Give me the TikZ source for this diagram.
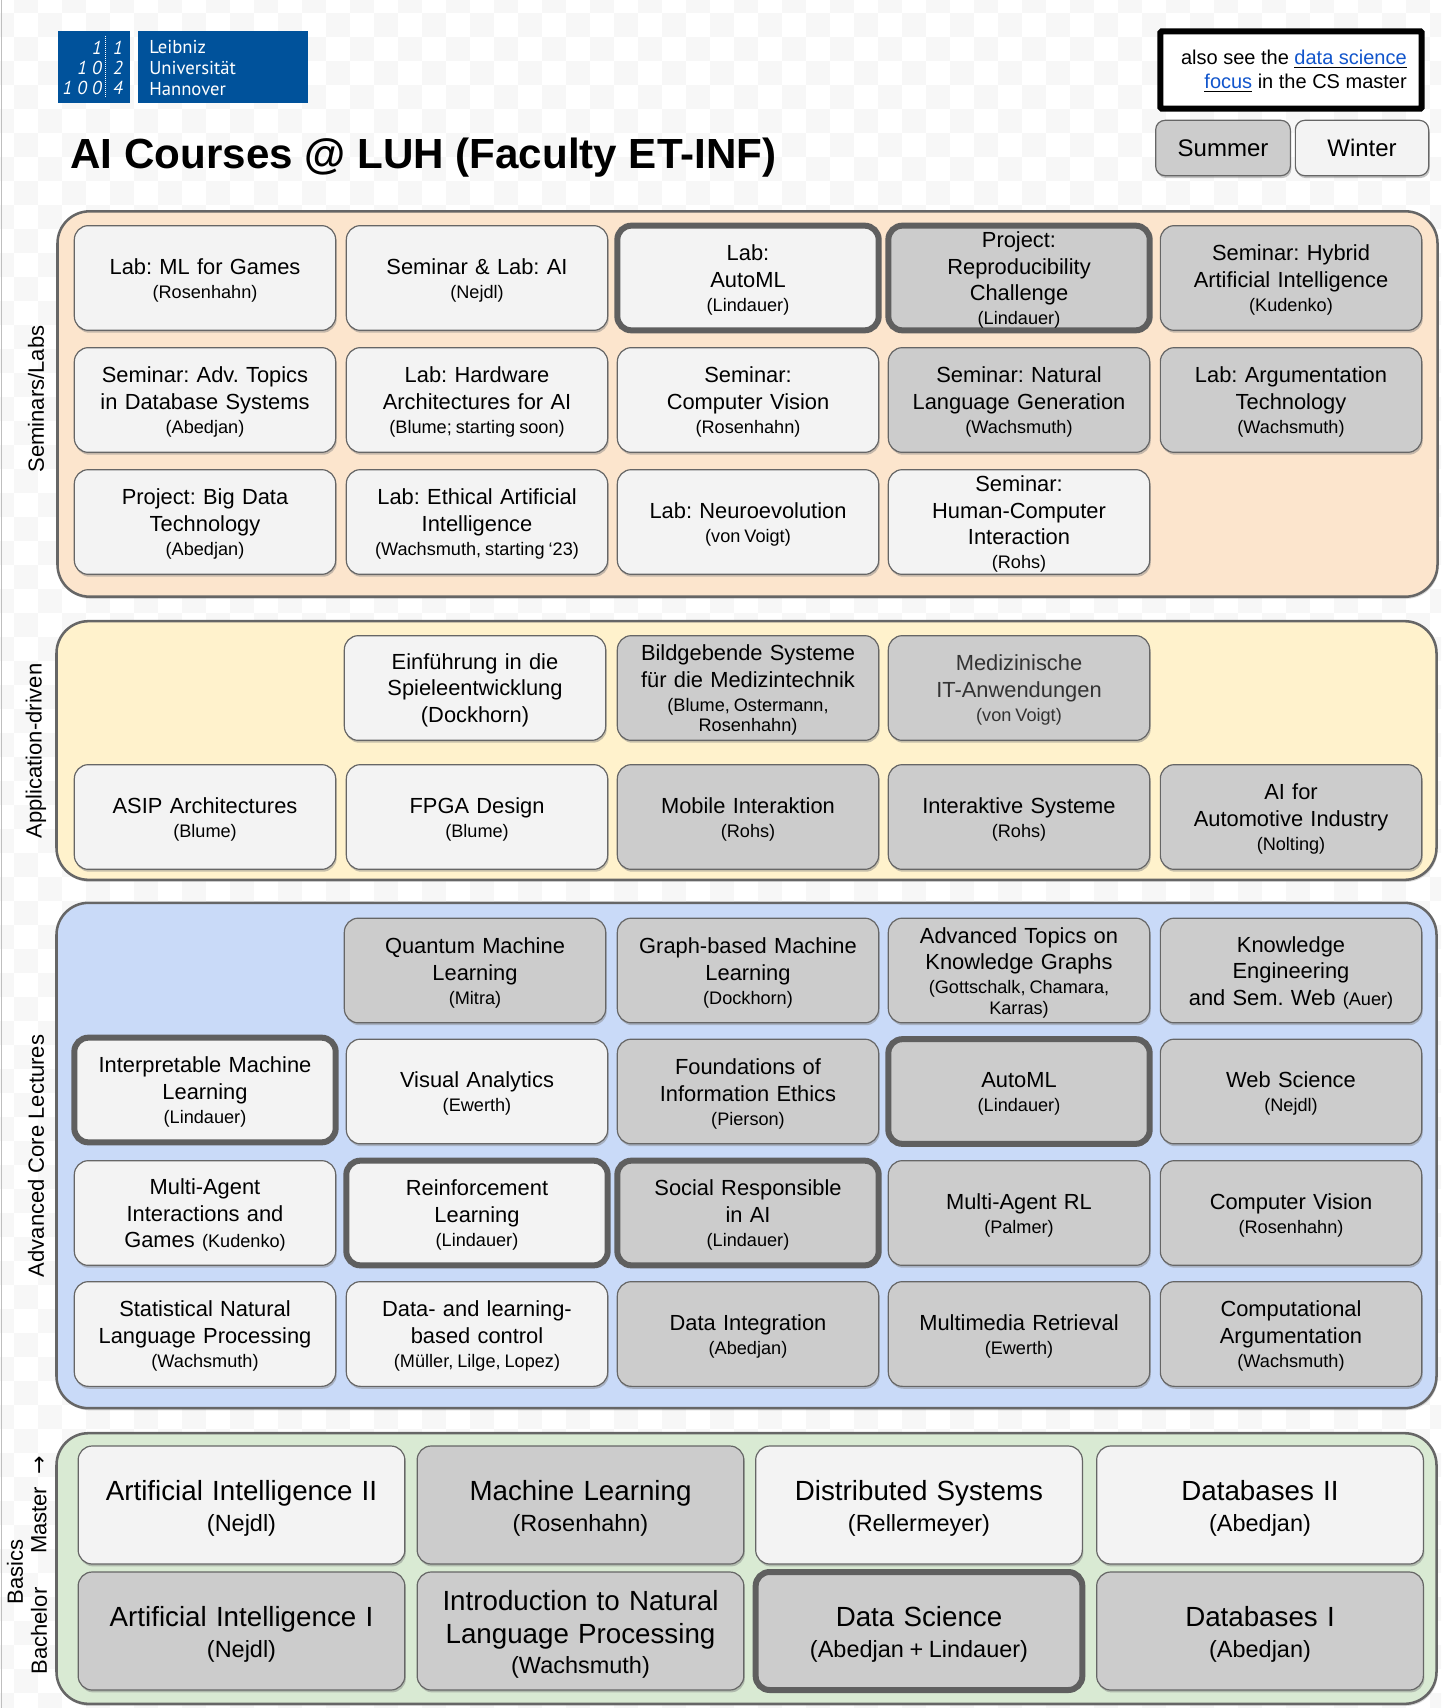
\documentclass[tikz,border=0pt]{standalone}
\usepackage{fontspec}
\setmainfont{Liberation Sans}
\newfontfamily\logofont{PT Sans}
\newfontfamily\arrowfont{DejaVu Sans}
\usetikzlibrary{shadows}
\AtBeginDocument{\frenchspacing}
\definecolor{frame}{HTML}{666666}
\definecolor{focusframe}{HTML}{5F5F5F}
\definecolor{summergrey}{HTML}{CCCCCC}
\definecolor{wintergrey}{HTML}{F3F3F3}
\definecolor{labscol}{HTML}{FCE5CD}
\definecolor{appcol}{HTML}{FFF2CC}
\definecolor{corecol}{HTML}{C9DAF8}
\definecolor{basicscol}{HTML}{D9EAD3}
\definecolor{logoblue}{HTML}{00529B}
\definecolor{linkblue}{HTML}{1155CC}
\definecolor{checker}{HTML}{F7F7F7}
\newcommand{\who}[1]{{\fontsize{13.6pt}{20pt}\selectfont\spaceskip=.22em\relax #1}}
\newcommand{\byline}[1]{\\[-2pt]\who{#1}}
\newcommand{\bybig}[1]{\\[-1.6pt]{\fontsize{17.6pt}{22pt}\selectfont\spaceskip=.24em\relax #1}}
\newcommand{\weblink}[1]{\underline{\textcolor{linkblue}{#1}}}
\tikzset{
  group/.style={draw=frame, line width=1.9pt, rounded corners=24pt, minimum width=1035pt,
    drop shadow={shadow xshift=.8pt, shadow yshift=-1.6pt, opacity=.3}},
  tile/.style={draw=frame, line width=.9pt, rounded corners=10.5pt, align=center, inner sep=0pt,
    drop shadow={shadow xshift=.8pt, shadow yshift=-1.8pt, opacity=.45}},
  legendbox/.style={tile, minimum height=41.5pt, text width=95pt, rounded corners=7pt,
    font=\fontsize{18pt}{20pt}\selectfont},
  course/.style={tile, minimum width=196pt, minimum height=78.5pt, text width=190pt,
    font=\fontsize{16.4pt}{20pt}\selectfont,
    execute at begin node={\rule{0pt}{15.2pt}}},
  basic/.style={course, minimum width=245pt, minimum height=88.5pt, text width=240pt,
    font=\fontsize{20.8pt}{24.5pt}\selectfont,
    execute at begin node={\rule{0pt}{20.2pt}}},
  summer/.style={fill=summergrey},
  winter/.style={fill=wintergrey},
  focus/.style={draw=focusframe, line width=4.5pt},
  side/.style={rotate=90, font=\fontsize{16.5pt}{20pt}\selectfont, inner sep=0pt},
  logotext/.style={text=white, anchor=west, inner sep=0pt, font=\logofont\fontsize{14pt}{16pt}\selectfont},
  logodigit/.style={text=white, inner sep=0pt, font=\logofont\itshape\fontsize{14pt}{16pt}\selectfont},
}
\begin{document}
\begin{tikzpicture}[x=.75pt, y=-.75pt]
\useasboundingbox (0,0) rectangle (1441,1708);
% page background
\begin{scope}
\clip (0,0) rectangle (1441,1708);
\foreach \i in {0,...,60} {
  \foreach \j in {0,...,71} {
    \pgfmathtruncatemacro{\odd}{mod(\i+\j,2)}
    \ifnum\odd=1
      \fill[checker] (\i*24-10, \j*24-11) rectangle (\i*24+14, \j*24+13);
    \fi
  }
}
\end{scope}
\draw[black!25] (1.5,0) -- (1.5,1708);

% logo
\fill[logoblue] (58,31) rectangle (130,103);
\fill[logoblue] (138,31) rectangle (308,103);
\draw[white, densely dotted, line width=.5pt] (105,36) -- (105,98);
\node[logodigit, anchor=east] (logoa) at (102,48) {1};
\node[logodigit, anchor=east] (logob) at (102,68) {1 0};
\node[logodigit, anchor=east] (logoc) at (102,88) {1 0 0};
\node[logodigit] (logod) at (118,48) {1};
\node[logodigit] (logoe) at (118,68) {2};
\node[logodigit] (logof) at (118,88) {4};
\node[logotext] (logoname) at (149,47) {Leibniz};
\node[logotext] (logoname2) at (149,68) {Universität};
\node[logotext] (logoname3) at (149,89) {Hannover};

% title and legend
\node[font=\bfseries\fontsize{31.6pt}{36pt}\selectfont, inner sep=0pt] (title) at (423.5,158) {AI Courses @ LUH (Faculty ET-INF)};
\node[draw=black, line width=4.5pt, fill=white, rounded corners=1pt, minimum width=196pt, minimum height=58pt, inner sep=0pt] (seealso) at (1291,70) {};
\node[align=right, anchor=east, inner sep=0pt, font=\fontsize{15pt}{18pt}\selectfont] (seealsotext) at (1407,71) {also see the \weblink{data science}\\\weblink{focus} in the CS master};
\node[legendbox, summer, minimum width=101pt] (legendsummer) at (1223,148) {Summer};
\node[legendbox, winter, minimum width=100pt] (legendwinter) at (1362,148) {Winter};

% side labels
\node[side] (sidelabs) at (36,399) {Seminars/Labs};
\node[side] (sideapp) at (36,751) {Application-driven};
\node[side] (sidecore) at (36,1156) {Advanced Core Lectures};
\node[side] (sidebasics) at (15,1572) {Basics};
\node[side] (sidemaster) at (39,1505) {Master \ {\arrowfont →}};
\node[side] (sidebachelor) at (39,1631) {Bachelor};

% groups
\node[group, fill=labscol, minimum height=289pt] (labs) at (747.5,404) {};
\node[group, fill=appcol, minimum height=194pt] (app) at (746.5,750.5) {};
\node[group, fill=corecol, minimum height=379pt] (core) at (746.5,1155.5) {};
\node[group, fill=basicscol, minimum height=203pt] (basics) at (746.5,1568.5) {};

% seminars and labs
\node[course, winter] (mlgames) at (205,278) {Lab: ML for Games\byline{(Rosenhahn)}};
\node[course, winter] (seminarai) at (477,278) {Seminar \& Lab: AI\byline{(Nejdl)}};
\node[course, winter, focus] (labautoml) at (748,278) {Lab:\\AutoML\byline{(Lindauer)}};
\node[course, summer, focus] (repro) at (1019,278) {Project:\\Reproducibility\\Challenge\byline{(Lindauer)}};
\node[course, summer] (hybrid) at (1291,278) {Seminar: Hybrid\\Artificial Intelligence\byline{(Kudenko)}};
\node[course, winter] (advdb) at (205,400) {Seminar: Adv. Topics\\in Database Systems\byline{(Abedjan)}};
\node[course, winter] (hwarch) at (477,400) {Lab: Hardware\\Architectures for AI\byline{(Blume; starting soon)}};
\node[course, winter] (semcv) at (748,400) {Seminar:\\Computer Vision\byline{(Rosenhahn)}};
\node[course, summer] (semnlg) at (1019,400) {Seminar: Natural\\Language Generation\byline{(Wachsmuth)}};
\node[course, summer] (argtech) at (1291,400) {Lab: Argumentation\\Technology\byline{(Wachsmuth)}};
\node[course, winter] (bigdata) at (205,522) {Project: Big Data\\Technology\byline{(Abedjan)}};
\node[course, winter] (ethical) at (477,522) {Lab: Ethical Artificial\\Intelligence\byline{(Wachsmuth, starting ‘23)}};
\node[course, winter] (neuroevo) at (748,522) {Lab: Neuroevolution\byline{(von Voigt)}};
\node[course, winter] (hci) at (1019,522) {Seminar:\\Human-Computer\\Interaction\byline{(Rohs)}};

% application-driven
\node[course, winter] (spiele) at (475,688) {Einführung in die\\Spieleentwicklung\\(Dockhorn)};
\node[course, summer] (bildgebend) at (748,688) {Bildgebende Systeme\\für die Medizintechnik\byline{(Blume, Ostermann,}\\[-4.5pt]\who{Rosenhahn)}};
\node[course, summer] (mediz) at (1019,688) {\textcolor{black!80}{Medizinische}\\\textcolor{black!80}{IT-Anwendungen}\byline{\textcolor{black!80}{(von Voigt)}}};
\node[course, winter] (asip) at (205,817) {ASIP Architectures\byline{(Blume)}};
\node[course, winter] (fpga) at (477,817) {FPGA Design\byline{(Blume)}};
\node[course, summer] (mobile) at (748,817) {Mobile Interaktion\byline{(Rohs)}};
\node[course, summer] (interaktiv) at (1019,817) {Interaktive Systeme\byline{(Rohs)}};
\node[course, summer] (automotive) at (1291,817) {AI for\\Automotive Industry\byline{(Nolting)}};

% advanced core lectures
\node[course, summer] (quantum) at (475,970.5) {Quantum Machine\\Learning\byline{(Mitra)}};
\node[course, summer] (graphml) at (748,970.5) {Graph-based Machine\\Learning\byline{(Dockhorn)}};
\node[course, summer] (advkg) at (1019,970.5) {Advanced Topics on\\Knowledge Graphs\byline{(Gottschalk, Chamara,}\\[-4.5pt]\who{Karras)}};
\node[course, summer] (knowledge) at (1291,970.5) {Knowledge\\Engineering\\and Sem. Web \who{(Auer)}};
\node[course, winter, focus] (iml) at (205,1090) {Interpretable Machine\\Learning\byline{(Lindauer)}};
\node[course, winter] (visual) at (477,1091.5) {Visual Analytics\byline{(Ewerth)}};
\node[course, summer] (infoethics) at (748,1091.5) {Foundations of\\Information Ethics\byline{(Pierson)}};
\node[course, summer, focus] (automl) at (1019,1091.5) {AutoML\byline{(Lindauer)}};
\node[course, summer] (webscience) at (1291,1091.5) {Web Science\byline{(Nejdl)}};
\node[course, winter] (multiagent) at (205,1213) {Multi-Agent\\Interactions and\\Games \who{(Kudenko)}};
\node[course, winter, focus] (rl) at (477,1213) {Reinforcement\\Learning\byline{(Lindauer)}};
\node[course, summer, focus] (social) at (748,1213) {Social Responsible\\in AI\byline{(Lindauer)}};
\node[course, summer] (marl) at (1019,1213) {Multi-Agent RL\byline{(Palmer)}};
\node[course, summer] (cv) at (1291,1213) {Computer Vision\byline{(Rosenhahn)}};
\node[course, winter] (statnlp) at (205,1334) {Statistical Natural\\Language Processing\byline{(Wachsmuth)}};
\node[course, winter] (control) at (477,1334) {Data- and learning-\\based control\byline{(Müller, Lilge, Lopez)}};
\node[course, summer] (dataint) at (748,1334) {Data Integration\byline{(Abedjan)}};
\node[course, summer] (multimedia) at (1019,1334) {Multimedia Retrieval\byline{(Ewerth)}};
\node[course, summer] (comparg) at (1291,1334) {Computational\\Argumentation\byline{(Wachsmuth)}};

% basics
\node[basic, winter] (aitwo) at (241.5,1505) {Artificial Intelligence II\bybig{(Nejdl)}};
\node[basic, summer] (ml) at (580.5,1505) {Machine Learning\bybig{(Rosenhahn)}};
\node[basic, winter] (distributed) at (919,1505) {Distributed Systems\bybig{(Rellermeyer)}};
\node[basic, winter] (dbtwo) at (1260,1505) {Databases II\bybig{(Abedjan)}};
\node[basic, summer] (aione) at (241.5,1631) {Artificial Intelligence I\bybig{(Nejdl)}};
\node[basic, summer] (intronlp) at (580.5,1631) {Introduction to Natural\\Language Processing\bybig{(Wachsmuth)}};
\node[basic, summer, focus] (datascience) at (919,1631) {Data Science\bybig{(Abedjan + Lindauer)}};
\node[basic, summer] (dbone) at (1260,1631) {Databases I\bybig{(Abedjan)}};
\end{tikzpicture}
\end{document}
